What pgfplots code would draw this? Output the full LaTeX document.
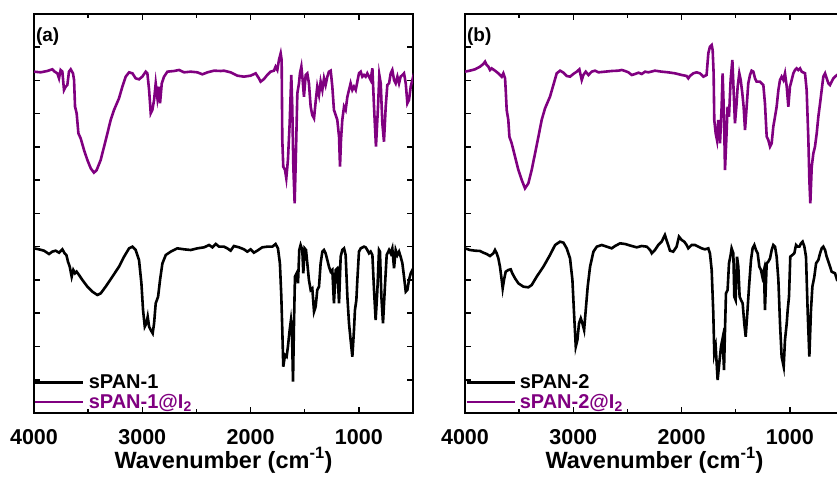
\documentclass[border=0pt]{standalone}
\usepackage{pgfplots}
\pgfplotsset{compat=1.18}
\usepackage{fontspec}
\setmainfont{Liberation Sans}
\definecolor{mypurple}{RGB}{128,0,128}
\pgfplotsset{
  spec/.style={
    width=379pt, height=399pt, scale only axis,
    x dir=reverse, xmin=500, xmax=4000,
    ymin=0, ymax=1197,
    xtick={1000,2000,3000,4000},
    minor xtick={500,1500,2500,3500},
    ytick={99.75,199.5,299.25,399,498.75,598.5,698.25,798,897.75,997.5,1097.25},
    yticklabels={},
    tick align=inside,
    major tick length=6pt, minor tick length=4pt,
    tick style={line width=1.5pt, black},
    axis line style={line width=2.4pt},
    /pgf/number format/1000 sep={},
    /pgf/number format/assume math mode=true,
    xticklabel style={font=\bfseries\fontsize{21.5}{21.5}\selectfont, inner sep=0pt, yshift=-16pt},
    xlabel={\bfseries Wavenumber (cm\textsuperscript{-1})},
    xlabel style={font=\bfseries\fontsize{23.5}{23.5}\selectfont, inner sep=0pt, yshift=-3pt},
    legend style={at={(0,0)}, anchor=south west, draw=none, fill=none,
      inner xsep=0pt, inner ysep=1pt, row sep=0pt,
      font=\bfseries\fontsize{20}{20}\selectfont,
      nodes={inner xsep=4pt, inner ysep=2pt}},
    legend cell align=left,
    legend image code/.code={\draw[#1,line width=2.6pt] (0pt,0pt) -- (48pt,0pt);},
  }
}
\begin{document}
\begin{tikzpicture}
\begin{axis}[spec, at={(34pt,66pt)}, anchor=south west]
\addplot[black, line width=2.6pt] coordinates {
(4000,494)(3954,491)(3908,487)(3861,477)(3831,484)(3800,487)(3769,481)(3738,491)(3717,479)(3701,474)(3686,454)(3670,439)(3652,409)(3637,429)(3621,419)(3606,424)(3584,414)(3553,399)(3507,379)(3461,364)(3415,354)(3384,359)(3338,379)(3276,409)(3215,439)(3168,469)(3122,494)(3091,499)(3061,489)(3030,459)(3008,389)(2993,309)(2977,259)(2962,269)(2950,289)(2937,259)(2922,249)(2904,239)(2891,269)(2876,329)(2854,349)(2836,399)(2814,449)(2783,474)(2737,484)(2676,494)(2614,491)(2552,489)(2491,494)(2429,497)(2383,504)(2352,497)(2321,507)(2291,499)(2246,499)
(2215,494)(2184,487)(2154,501)(2107,497)(2061,491)(2030,484)(1999,491)(1969,481)(1938,487)(1892,497)(1846,499)(1799,499)(1769,507)(1747,494)(1729,449)(1716,349)(1707,249)(1698,139)(1682,174)(1667,169)(1655,199)(1639,249)(1627,279)(1618,249)(1608,94)(1599,269)(1590,409)(1575,419)(1562,389)(1550,489)(1538,504)(1522,489)(1513,419)(1501,494)(1488,489)(1476,449)(1461,399)(1445,369)(1430,374)(1414,304)(1399,319)(1384,369)(1368,379)(1353,449)(1337,484)(1322,489)(1307,479)(1291,459)(1276,439)(1260,424)(1245,429)(1230,329)(1214,429)(1199,434)(1183,329)(1168,469)(1153,489)(1137,494)(1122,474)(1106,349)(1091,269)(1076,219)(1060,169)(1045,249)(1036,309)(1023,339)(1014,399)(999,484)(983,494)(952,499)(937,497)(922,489)(906,479)(891,484)(875,474)(860,369)(845,279)(829,369)(814,489)(805,484)(792,349)(777,269)(761,369)(743,474)(721,489)(706,479)(691,494)(675,434)(660,489)(644,474)(629,484)(614,469)(598,449)(583,409)(567,364)(552,369)(537,399)(521,419)(490,439)
};
\addlegendentry{sPAN-1}
\addplot[mypurple, line width=2.6pt] coordinates {
(4000,1024)(3938,1022)(3877,1026)(3831,1031)(3809,1024)(3784,1019)(3769,1004)(3754,1029)(3738,1024)(3723,969)(3707,979)(3692,984)(3677,1024)(3661,1031)(3640,1019)(3630,999)(3621,919)(3606,899)(3590,839)(3569,824)(3538,789)(3507,759)(3476,734)(3446,721)(3421,729)(3384,759)(3353,799)(3322,839)(3292,879)(3261,909)(3215,944)(3184,979)(3153,1009)(3122,1022)(3091,1019)(3061,1004)(3030,1001)(3000,1009)(2968,1024)(2953,1019)(2937,969)(2922,899)(2907,909)(2891,939)(2876,989)(2860,944)(2845,979)(2836,929)(2820,989)(2799,1009)(2768,1024)(2706,1026)(2660,1029)(2614,1022)(2552,1024)(2491,1022)(2445,1016)(2398,1022)(2337,1027)(2275,1026)(2246,1027)
(2184,1022)(2123,1012)(2061,1009)(1999,1012)(1953,1019)(1923,1004)(1907,994)(1876,1002)(1846,1014)(1815,1024)(1784,1027)(1769,1039)(1753,1029)(1738,1059)(1722,1079)(1713,1059)(1707,819)(1698,739)(1682,729)(1670,704)(1655,759)(1639,869)(1624,1014)(1615,919)(1605,739)(1593,629)(1584,739)(1568,959)(1553,989)(1544,1019)(1531,1039)(1519,999)(1507,949)(1491,1014)(1476,1019)(1461,989)(1445,919)(1430,894)(1414,884)(1399,934)(1384,979)(1368,954)(1353,994)(1337,969)(1322,1004)(1307,984)(1291,1009)(1276,1024)(1260,1027)(1245,979)(1230,909)(1214,894)(1199,879)(1183,829)(1174,739)(1165,819)(1153,879)(1137,919)(1122,909)(1106,949)(1091,969)(1076,989)(1060,969)(1045,979)(1029,969)(1014,994)(999,1019)(983,1024)(968,1009)(952,1014)(937,1009)(922,1019)(906,1009)(891,999)(875,1034)(860,919)(842,799)(823,919)(811,1014)(798,989)(783,869)(768,814)(752,919)(737,984)(721,989)(706,1019)(691,1029)(675,999)(660,989)(644,1009)(629,989)(614,1009)(598,1014)(583,1019)(567,989)(552,929)(537,939)(521,979)(506,999)(490,1019)
};
\addlegendentry{\textcolor{mypurple}{sPAN-1@I\textsubscript{2}}}
\node[anchor=north west, font=\bfseries\fontsize{19}{19}\selectfont, inner sep=0pt] at (rel axis cs:0.005,0.965) {(a)};
\end{axis}
\begin{axis}[spec, at={(465pt,66pt)}, anchor=south west]
\addplot[black, line width=2.6pt] coordinates {
(4000,494)(3954,489)(3908,487)(3861,486)(3831,481)(3800,477)(3769,471)(3738,479)(3723,489)(3707,479)(3692,464)(3677,439)(3661,399)(3652,374)(3640,399)(3624,424)(3600,429)(3578,431)(3563,419)(3538,404)(3507,389)(3461,379)(3415,377)(3384,384)(3338,409)(3276,439)(3215,474)(3168,504)(3122,514)(3091,511)(3061,494)(3030,464)(3008,399)(2993,299)(2977,199)(2962,219)(2947,269)(2931,284)(2916,269)(2900,249)(2885,309)(2867,379)(2845,439)(2814,484)(2783,499)(2737,504)(2691,499)(2645,494)(2614,501)(2568,509)(2522,507)(2460,501)(2414,497)(2368,501)(2321,499)(2291,489)(2275,479)(2246,489)
(2215,504)(2184,514)(2154,534)(2129,509)(2107,487)(2077,484)(2046,499)(2024,529)(1999,519)(1975,514)(1953,504)(1938,494)(1907,504)(1876,504)(1846,499)(1815,494)(1784,491)(1753,494)(1738,479)(1722,429)(1707,299)(1698,179)(1685,199)(1667,99)(1652,149)(1636,199)(1621,224)(1608,129)(1599,249)(1590,359)(1575,369)(1562,449)(1547,474)(1538,494)(1522,479)(1513,349)(1501,339)(1488,469)(1476,439)(1464,349)(1451,339)(1436,329)(1421,269)(1408,229)(1393,299)(1377,379)(1359,459)(1344,494)(1328,504)(1313,489)(1297,479)(1282,439)(1267,429)(1254,409)(1239,429)(1230,309)(1214,449)(1199,454)(1183,464)(1168,489)(1153,504)(1137,499)(1122,469)(1106,399)(1091,269)(1076,169)(1057,139)(1045,219)(1029,269)(1020,309)(1008,349)(996,469)(977,474)(959,479)(943,504)(928,499)(912,499)(897,509)(882,514)(866,499)(851,469)(835,299)(820,169)(805,309)(792,379)(774,409)(758,449)(737,459)(721,479)(706,494)(691,499)(675,489)(660,469)(644,454)(629,439)(614,424)(583,419)(564,399)(530,390)(500,385)
};
\addlegendentry{sPAN-2}
\addplot[mypurple, line width=2.6pt] coordinates {
(4000,1024)(3954,1027)(3908,1031)(3861,1039)(3831,1047)(3815,1054)(3800,1044)(3784,1039)(3769,1029)(3754,1034)(3723,1027)(3692,1019)(3661,1009)(3646,1019)(3630,1004)(3624,969)(3615,909)(3600,879)(3590,829)(3569,809)(3538,769)(3507,729)(3476,699)(3446,674)(3415,689)(3384,729)(3353,779)(3322,829)(3292,879)(3261,914)(3215,949)(3184,984)(3153,1019)(3122,1027)(3091,1021)(3061,1011)(3030,1009)(3000,1017)(2968,1024)(2944,1031)(2922,999)(2907,1014)(2885,1024)(2860,1014)(2830,1024)(2799,1027)(2768,1022)(2706,1024)(2645,1026)(2583,1027)(2552,1029)(2522,1026)(2491,1022)(2460,1014)(2429,1017)(2398,1021)(2368,1017)(2337,1024)(2306,1022)(2246,1027)
(2184,1024)(2123,1022)(2061,1019)(1999,1014)(1953,1011)(1938,1004)(1923,1011)(1892,1019)(1861,1022)(1830,1019)(1799,1009)(1769,1014)(1753,1079)(1738,1099)(1722,1104)(1713,1089)(1704,1019)(1698,879)(1685,839)(1673,819)(1661,879)(1645,809)(1630,919)(1621,1019)(1608,889)(1599,729)(1587,819)(1575,919)(1562,889)(1547,999)(1531,1059)(1522,989)(1507,869)(1494,919)(1482,979)(1467,1019)(1454,999)(1439,959)(1427,919)(1414,849)(1399,919)(1384,989)(1368,1014)(1353,1027)(1337,1024)(1322,1004)(1307,994)(1276,994)(1245,984)(1230,929)(1214,829)(1199,819)(1183,799)(1168,809)(1153,859)(1137,889)(1122,919)(1106,969)(1091,999)(1076,1009)(1060,999)(1045,1019)(1029,979)(1014,919)(999,979)(983,999)(968,1019)(952,1029)(937,1034)(922,1029)(906,1034)(891,1024)(860,1019)(845,969)(829,819)(820,699)(811,629)(798,739)(783,779)(768,799)(752,839)(737,889)(721,929)(706,969)(691,1009)(675,1019)(660,1004)(644,989)(629,984)(614,994)(598,1004)(583,1009)(564,1014)(530,1012)(500,1010)
};
\addlegendentry{\textcolor{mypurple}{sPAN-2@I\textsubscript{2}}}
\node[anchor=north west, font=\bfseries\fontsize{19}{19}\selectfont, inner sep=0pt] at (rel axis cs:0.005,0.965) {(b)};
\end{axis}
\pgfresetboundingbox
\path[use as bounding box] (0pt,0pt) rectangle (837pt,479pt);
\end{tikzpicture}
\end{document}
